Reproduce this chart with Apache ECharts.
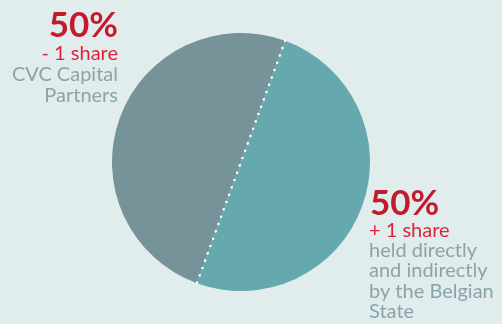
<!DOCTYPE html>
<html><head><meta charset="utf-8">
<script src="https://cdn.jsdelivr.net/npm/echarts@6/dist/echarts.min.js"></script>
<style>html,body{margin:0;padding:0;background:#e1eced}#c{width:502px;height:324px}</style>
</head><body><div id="c"></div>
<script>
const categories = ['held directly and indirectly by the Belgian State', 'CVC Capital Partners'];
const values = [50, 50];
const pctLabels = ['50%', '50%'];
const shareLabels = ['+ 1 share', '- 1 share'];
const nameLines = [['held directly', 'and indirectly', 'by the Belgian', 'State'], ['CVC Capital', 'Partners']];

const cx = 241, cy = 162, r = 129, startAngle = 70;
const rad = startAngle * Math.PI / 180;
const p1 = [cx + r * Math.cos(rad), cy - r * Math.sin(rad)];
const p2 = [cx - r * Math.cos(rad), cy + r * Math.sin(rad)];

const font = 'Lato';
const red = '#c41a2e', red2 = '#e0233a', grey = '#8aa4ab';
function txt(x, y, text, f, fill, align, lh) {
  return { type: 'text', x: x, y: y, z: 20, style: { text: text, font: f, fill: fill, align: align, verticalAlign: 'top', lineHeight: lh } };
}

const chart = echarts.init(document.getElementById('c'));
chart.setOption({
  backgroundColor: '#e1eced',
  animation: false,
  series: [{
    type: 'pie',
    center: [cx, cy],
    radius: [0, r],
    startAngle: startAngle,
    clockwise: true,
    label: { show: false },
    labelLine: { show: false },
    data: categories.map((c, i) => ({ name: c, value: values[i] })),
    color: ['#65a8ae', '#76939a'],
    itemStyle: { borderWidth: 0 }
  }],
  graphic: [
    { type: 'line', shape: { x1: p1[0], y1: p1[1], x2: p2[0], y2: p2[1] },
      style: { stroke: '#ffffff', lineWidth: 2.6, lineDash: [0, 7.8], lineCap: 'round' }, z: 10 },
    txt(118, 8, pctLabels[1], 'bold 35px ' + font, red, 'right', 35),
    txt(118, 43, shareLabels[1], '20px ' + font, red2, 'right', 21),
    txt(118, 64, nameLines[1].join('\n'), '20px ' + font, grey, 'right', 21),
    txt(370, 186, pctLabels[0], 'bold 35px ' + font, red, 'left', 35),
    txt(369, 221, shareLabels[0], '20px ' + font, red2, 'left', 20),
    txt(369, 240, nameLines[0].join('\n'), '20px ' + font, grey, 'left', 20.5)
  ]
});
</script></body></html>
